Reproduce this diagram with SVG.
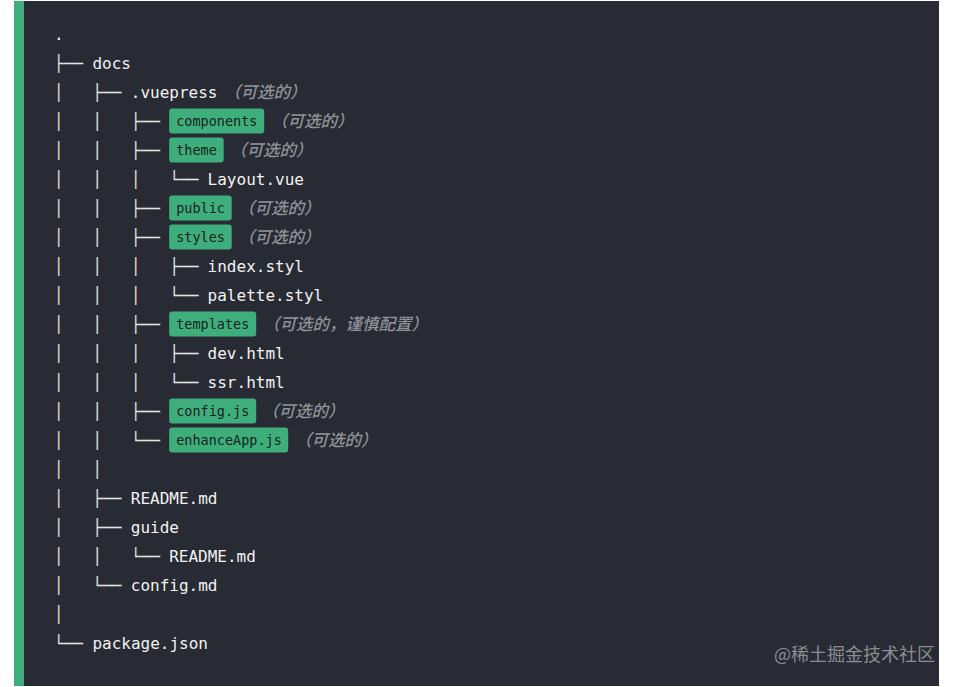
<svg xmlns="http://www.w3.org/2000/svg" width="958" height="687" viewBox="0 0 958 687">
<style>
.t{font-family:"DejaVu Sans Mono","Liberation Mono",monospace;font-size:16px;fill:#f2f2f2;white-space:pre}
.tree{font-family:"DejaVu Sans Mono","Liberation Mono",monospace;font-size:16px;fill:#e4e4e4;white-space:pre}
.b{fill:#3eaf7c}
.bt{font-family:"DejaVu Sans Mono","Liberation Mono",monospace;font-size:13.5px;fill:#17221d;white-space:pre}
.c{font-family:"Noto Sans CJK SC",sans-serif;font-size:16.5px;font-weight:500;font-style:italic;fill:#8f9297}
.w{font-family:"Noto Sans CJK SC",sans-serif;font-size:18px;fill:#8a8c91}
</style>
<rect x="0" y="0" width="958" height="687" fill="#ffffff"/>
<rect x="14" y="1" width="925" height="685" fill="#282b33"/>
<rect x="14" y="1" width="10" height="685" fill="#3eaf7c"/>
<g id="connectors">
<text class="tree" xml:space="preserve" x="54" y="68.5">├──</text>
<text class="tree" xml:space="preserve" x="54" y="97.5">│   ├──</text>
<text class="tree" xml:space="preserve" x="54" y="126.5">│   │   ├──</text>
<text class="tree" xml:space="preserve" x="54" y="155.5">│   │   ├──</text>
<text class="tree" xml:space="preserve" x="54" y="184.5">│   │   │   └──</text>
<text class="tree" xml:space="preserve" x="54" y="213.5">│   │   ├──</text>
<text class="tree" xml:space="preserve" x="54" y="242.5">│   │   ├──</text>
<text class="tree" xml:space="preserve" x="54" y="271.5">│   │   │   ├──</text>
<text class="tree" xml:space="preserve" x="54" y="300.5">│   │   │   └──</text>
<text class="tree" xml:space="preserve" x="54" y="329.5">│   │   ├──</text>
<text class="tree" xml:space="preserve" x="54" y="358.5">│   │   │   ├──</text>
<text class="tree" xml:space="preserve" x="54" y="387.5">│   │   │   └──</text>
<text class="tree" xml:space="preserve" x="54" y="416.5">│   │   ├──</text>
<text class="tree" xml:space="preserve" x="54" y="445.5">│   │   └──</text>
<text class="tree" xml:space="preserve" x="54" y="474.5">│   │</text>
<text class="tree" xml:space="preserve" x="54" y="503.5">│   ├──</text>
<text class="tree" xml:space="preserve" x="54" y="532.5">│   ├──</text>
<text class="tree" xml:space="preserve" x="54" y="561.5">│   │   └──</text>
<text class="tree" xml:space="preserve" x="54" y="590.5">│   └──</text>
<text class="tree" xml:space="preserve" x="54" y="619.5">│</text>
<text class="tree" xml:space="preserve" x="54" y="648.5">└──</text>
</g>
<g id="root"><text class="t" x="54" y="39.5">.</text></g>
<g id="docs"><text class="t" x="92.4" y="68.5">docs</text></g>
<g id="vuepress"><text class="t" x="130.8" y="97.5">.vuepress</text><text class="c" x="224" y="97.5">（可选的）</text></g>
<g id="components"><rect class="b" x="169.2" y="108.5" width="95" height="25" rx="3"/><text class="bt" x="176.2" y="125.5">components</text><text class="c" x="271" y="126.5">（可选的）</text></g>
<g id="theme"><rect class="b" x="169.2" y="137.5" width="54.5" height="25" rx="3"/><text class="bt" x="176.2" y="154.5">theme</text><text class="c" x="230" y="155.5">（可选的）</text></g>
<g id="layout"><text class="t" x="207.6" y="184.5">Layout.vue</text></g>
<g id="public"><rect class="b" x="169.2" y="195.5" width="62.5" height="25" rx="3"/><text class="bt" x="176.2" y="212.5">public</text><text class="c" x="238" y="213.5">（可选的）</text></g>
<g id="styles"><rect class="b" x="169.2" y="224.5" width="62.5" height="25" rx="3"/><text class="bt" x="176.2" y="241.5">styles</text><text class="c" x="238" y="242.5">（可选的）</text></g>
<g id="index-styl"><text class="t" x="207.6" y="271.5">index.styl</text></g>
<g id="palette-styl"><text class="t" x="207.6" y="300.5">palette.styl</text></g>
<g id="templates"><rect class="b" x="169.2" y="311.5" width="87" height="25" rx="3"/><text class="bt" x="176.2" y="328.5">templates</text><text class="c" x="263" y="329.5">（可选的，谨慎配置）</text></g>
<g id="dev-html"><text class="t" x="207.6" y="358.5">dev.html</text></g>
<g id="ssr-html"><text class="t" x="207.6" y="387.5">ssr.html</text></g>
<g id="config-js"><rect class="b" x="169.2" y="398.5" width="87" height="25" rx="3"/><text class="bt" x="176.2" y="415.5">config.js</text><text class="c" x="262" y="416.5">（可选的）</text></g>
<g id="enhanceapp-js"><rect class="b" x="169.2" y="427.5" width="119" height="25" rx="3"/><text class="bt" x="176.2" y="444.5">enhanceApp.js</text><text class="c" x="295" y="445.5">（可选的）</text></g>
<g id="readme-md"><text class="t" x="130.8" y="503.5">README.md</text></g>
<g id="guide"><text class="t" x="130.8" y="532.5">guide</text></g>
<g id="guide-readme-md"><text class="t" x="169.2" y="561.5">README.md</text></g>
<g id="config-md"><text class="t" x="130.8" y="590.5">config.md</text></g>
<g id="package-json"><text class="t" x="92.4" y="648.5">package.json</text></g>
<text class="w" x="935" y="660.5" text-anchor="end">@稀土掘金技术社区</text>
</svg>
